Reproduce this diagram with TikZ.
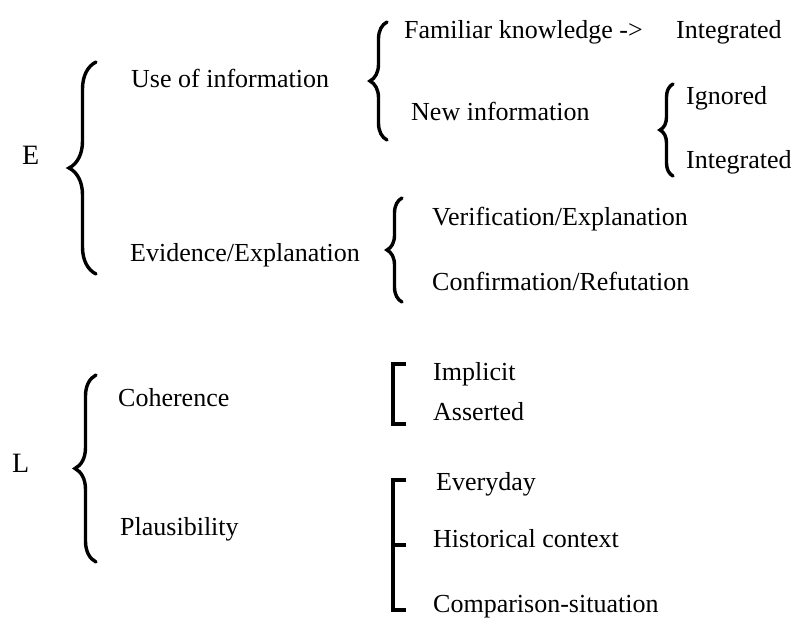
\documentclass[tikz,border=0pt]{standalone}
\usepackage{fontspec}
\setmainfont{Liberation Serif}
\usetikzlibrary{decorations.pathreplacing}
\begin{document}
\begin{tikzpicture}[x=1pt,y=-1pt,
  lbl/.style={anchor=base west,inner sep=0pt,font=\fontsize{26}{30}\selectfont},
  curly/.style={decorate,line width=3.4pt,line cap=round,decoration={brace,amplitude=#1}},
  sqbr/.style={line width=3.8pt}]
\useasboundingbox (0,0) rectangle (791,618);

% E branch
\node[lbl,font=\fontsize{28}{32}\selectfont] (E) at (22,164) {E};
\node[lbl] (use) at (131,87) {Use of information};
\node[lbl] (evid) at (130,261) {Evidence/Explanation};
\coordinate (eb1) at (96,274);
\coordinate (eb2) at (96,62);
\draw[curly=27pt] (eb1) -- (eb2);

\node[lbl] (fam) at (404,38) {Familiar knowledge ->};
\node[lbl] (int1) at (676,38) {Integrated};
\node[lbl] (new) at (411,120) {New information};
\coordinate (ub1) at (387,140);
\coordinate (ub2) at (387,22);
\draw[curly=17pt] (ub1) -- (ub2);

\node[lbl] (ign) at (686,104) {Ignored};
\node[lbl] (int2) at (686,168) {Integrated};
\coordinate (nb1) at (673,176);
\coordinate (nb2) at (673,84);
\draw[curly=13pt] (nb1) -- (nb2);

\node[lbl] (ver) at (432,225) {Verification/Explanation};
\node[lbl] (conf) at (432,290) {Confirmation/Refutation};
\coordinate (vb1) at (402,302);
\coordinate (vb2) at (402,198);
\draw[curly=15pt] (vb1) -- (vb2);

% L branch
\node[lbl,font=\fontsize{28}{32}\selectfont] (L) at (12,472) {L};
\node[lbl] (coh) at (118,406) {Coherence};
\node[lbl] (plaus) at (120,535) {Plausibility};
\coordinate (lb1) at (96,562);
\coordinate (lb2) at (96,375);
\draw[curly=21pt] (lb1) -- (lb2);

\node[lbl] (impl) at (433,380) {Implicit};
\node[lbl] (ass) at (433,420) {Asserted};
\coordinate (cb1) at (406,364);
\coordinate (cb2) at (406,424);
\draw[sqbr] (cb1) -| (393,394) |- (cb2);

\node[lbl] (every) at (436,490) {Everyday};
\node[lbl] (hist) at (433,547) {Historical context};
\node[lbl] (comp) at (433,612) {Comparison-situation};
\coordinate (pb1) at (406,480);
\coordinate (pb2) at (406,545);
\coordinate (pb3) at (406,610);
\draw[sqbr] (pb1) -| (393,545) |- (pb3);
\draw[sqbr] (393,545) -- (pb2);
\end{tikzpicture}
\end{document}
